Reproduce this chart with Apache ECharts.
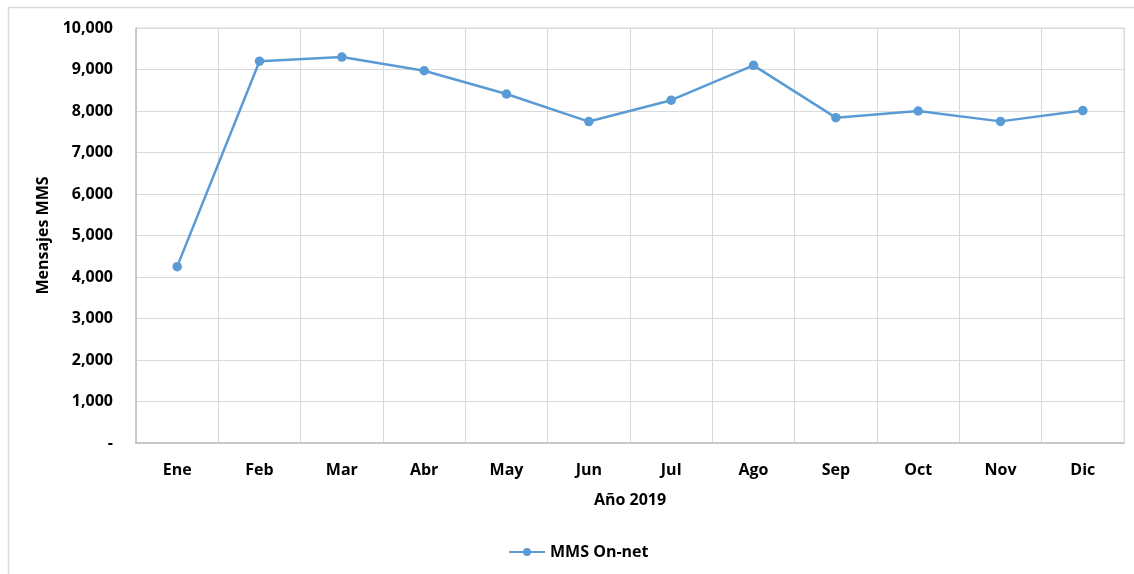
<!DOCTYPE html>
<html>
<head>
    <meta charset="UTF-8">
    <title>MMS On-net 2019</title>
    <script type="text/javascript" src="https://cdn.jsdelivr.net/npm/echarts@6/dist/echarts.min.js"></script>
    <style>
        html, body { margin: 0; padding: 0; background: #fff; }
    </style>
</head>
<body>
<div id="main" style="width: 1134px;height:574px;"></div>
<script type="text/javascript">
    // datos
    var meses = ['Ene', 'Feb', 'Mar', 'Abr', 'May', 'Jun', 'Jul', 'Ago', 'Sep', 'Oct', 'Nov', 'Dic'];
    var mmsOnNet = [4250, 9200, 9300, 8970, 8410, 7745, 8260, 9100, 7840, 8000, 7750, 8010];
    var serieNombre = 'MMS On-net';

    var fuente = '"Open Sans", "Noto Sans", sans-serif';

    var myChart = echarts.init(document.getElementById('main'));
    myChart.setOption({
        animation: false,
        textStyle: { fontFamily: fuente },
        graphic: [{
            // marco del grafico
            type: 'rect',
            shape: { x: 8.5, y: 7.5, width: 1200, height: 700 },
            style: { fill: 'none', stroke: '#d9d9d9', lineWidth: 1.5 },
            silent: true
        }],
        grid: {
            left: 136,
            right: 10,
            top: 28,
            bottom: 131,
            show: true,
            borderColor: '#d9d9d9',
            borderWidth: 1
        },
        legend: {
            data: [serieNombre],
            left: 503,
            top: 539,
            itemWidth: 36,
            itemHeight: 10,
            itemGap: 2,
            textStyle: { fontFamily: fuente, fontWeight: 'bold', fontSize: 16, color: '#000' }
        },
        xAxis: {
            type: 'category',
            data: meses,
            boundaryGap: true,
            name: 'Año 2019',
            nameLocation: 'middle',
            nameGap: 49,
            nameTextStyle: { fontFamily: fuente, fontWeight: 'bold', fontSize: 16, color: '#000' },
            axisLine: { lineStyle: { color: '#bfbfbf', width: 1.5 } },
            axisTick: { show: false },
            axisLabel: { margin: 19, fontFamily: fuente, fontWeight: 'bold', fontSize: 16, color: '#000' },
            splitLine: { show: true, lineStyle: { color: '#d9d9d9', width: 1 } }
        },
        yAxis: {
            type: 'value',
            min: 0,
            max: 10000,
            interval: 1000,
            name: 'Mensajes MMS',
            nameLocation: 'middle',
            nameGap: 84,
            nameTextStyle: { fontFamily: fuente, fontWeight: 'bold', fontSize: 16, color: '#000' },
            axisLine: { show: true, lineStyle: { color: '#bfbfbf', width: 1.5 } },
            axisTick: { show: false },
            axisLabel: {
                margin: 23,
                fontFamily: fuente,
                fontWeight: 'bold',
                fontSize: 16,
                color: '#000',
                formatter: function (v) {
                    if (v === 0) return '-';
                    return v.toLocaleString('en-US');
                }
            },
            splitLine: { show: true, lineStyle: { color: '#d9d9d9', width: 1 } }
        },
        series: [{
            name: serieNombre,
            type: 'line',
            data: mmsOnNet,
            symbol: 'circle',
            symbolSize: 9.5,
            itemStyle: { color: '#5b9bd5' },
            lineStyle: { color: '#5b9bd5', width: 2.5 }
        }]
    });
</script>
</body>
</html>
